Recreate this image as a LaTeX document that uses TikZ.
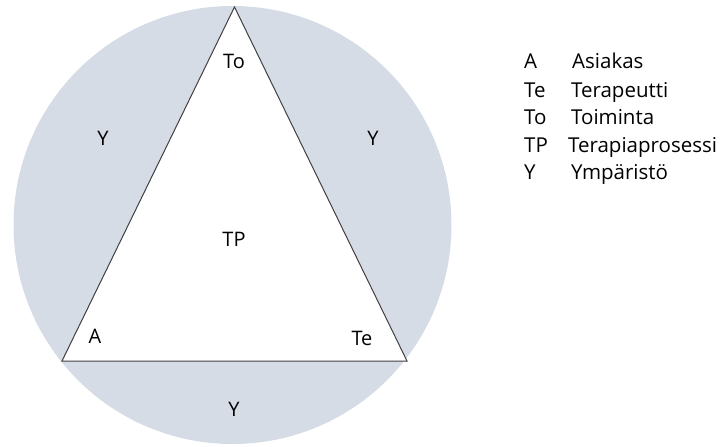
\documentclass[tikz,border=0pt]{standalone}
\usepackage{fontspec}
\setmainfont{Open Sans}
\definecolor{envfill}{RGB}{214,220,229}
\definecolor{edgegray}{RGB}{64,64,64}
\begin{document}
\begin{tikzpicture}[x=1pt,y=-1pt,
  lbl/.style={font=\fontsize{20}{24}\selectfont, text=black, inner sep=0pt},
  leg/.style={font=\fontsize{20.5}{24}\selectfont, text=black, inner sep=0pt, anchor=base west}]
\useasboundingbox (0,0) rectangle (723,447);
\fill[envfill] (232.5,225) circle[radius=219];
\coordinate (top) at (234.5,7);
\coordinate (bl) at (62,361);
\coordinate (br) at (407,361);
\draw[edgegray, line width=1pt, fill=white, line join=miter] (top) -- (bl) -- (br) -- cycle;
\node[lbl] (to) at (234,61) {To};
\node[lbl] (tp) at (234,239) {TP};
\node[lbl] (a) at (95,336) {A};
\node[lbl] (te) at (362,338) {Te};
\node[lbl] (yl) at (103,138) {Y};
\node[lbl] (yr) at (373,138) {Y};
\node[lbl] (yb) at (234,409) {Y};
\node[leg] (k1) at (524,68) {A};
\node[leg] (v1) at (572,68) {Asiakas};
\node[leg] (k2) at (524,97) {Te};
\node[leg] (v2) at (571,97) {Terapeutti};
\node[leg] (k3) at (524,124) {To};
\node[leg] (v3) at (571,124) {Toiminta};
\node[leg] (k4) at (524,152) {TP};
\node[leg] (v4) at (568,152) {Terapiaprosessi};
\node[leg] (k5) at (524,179) {Y};
\node[leg] (v5) at (571,179) {Ympäristö};
\end{tikzpicture}
\end{document}
